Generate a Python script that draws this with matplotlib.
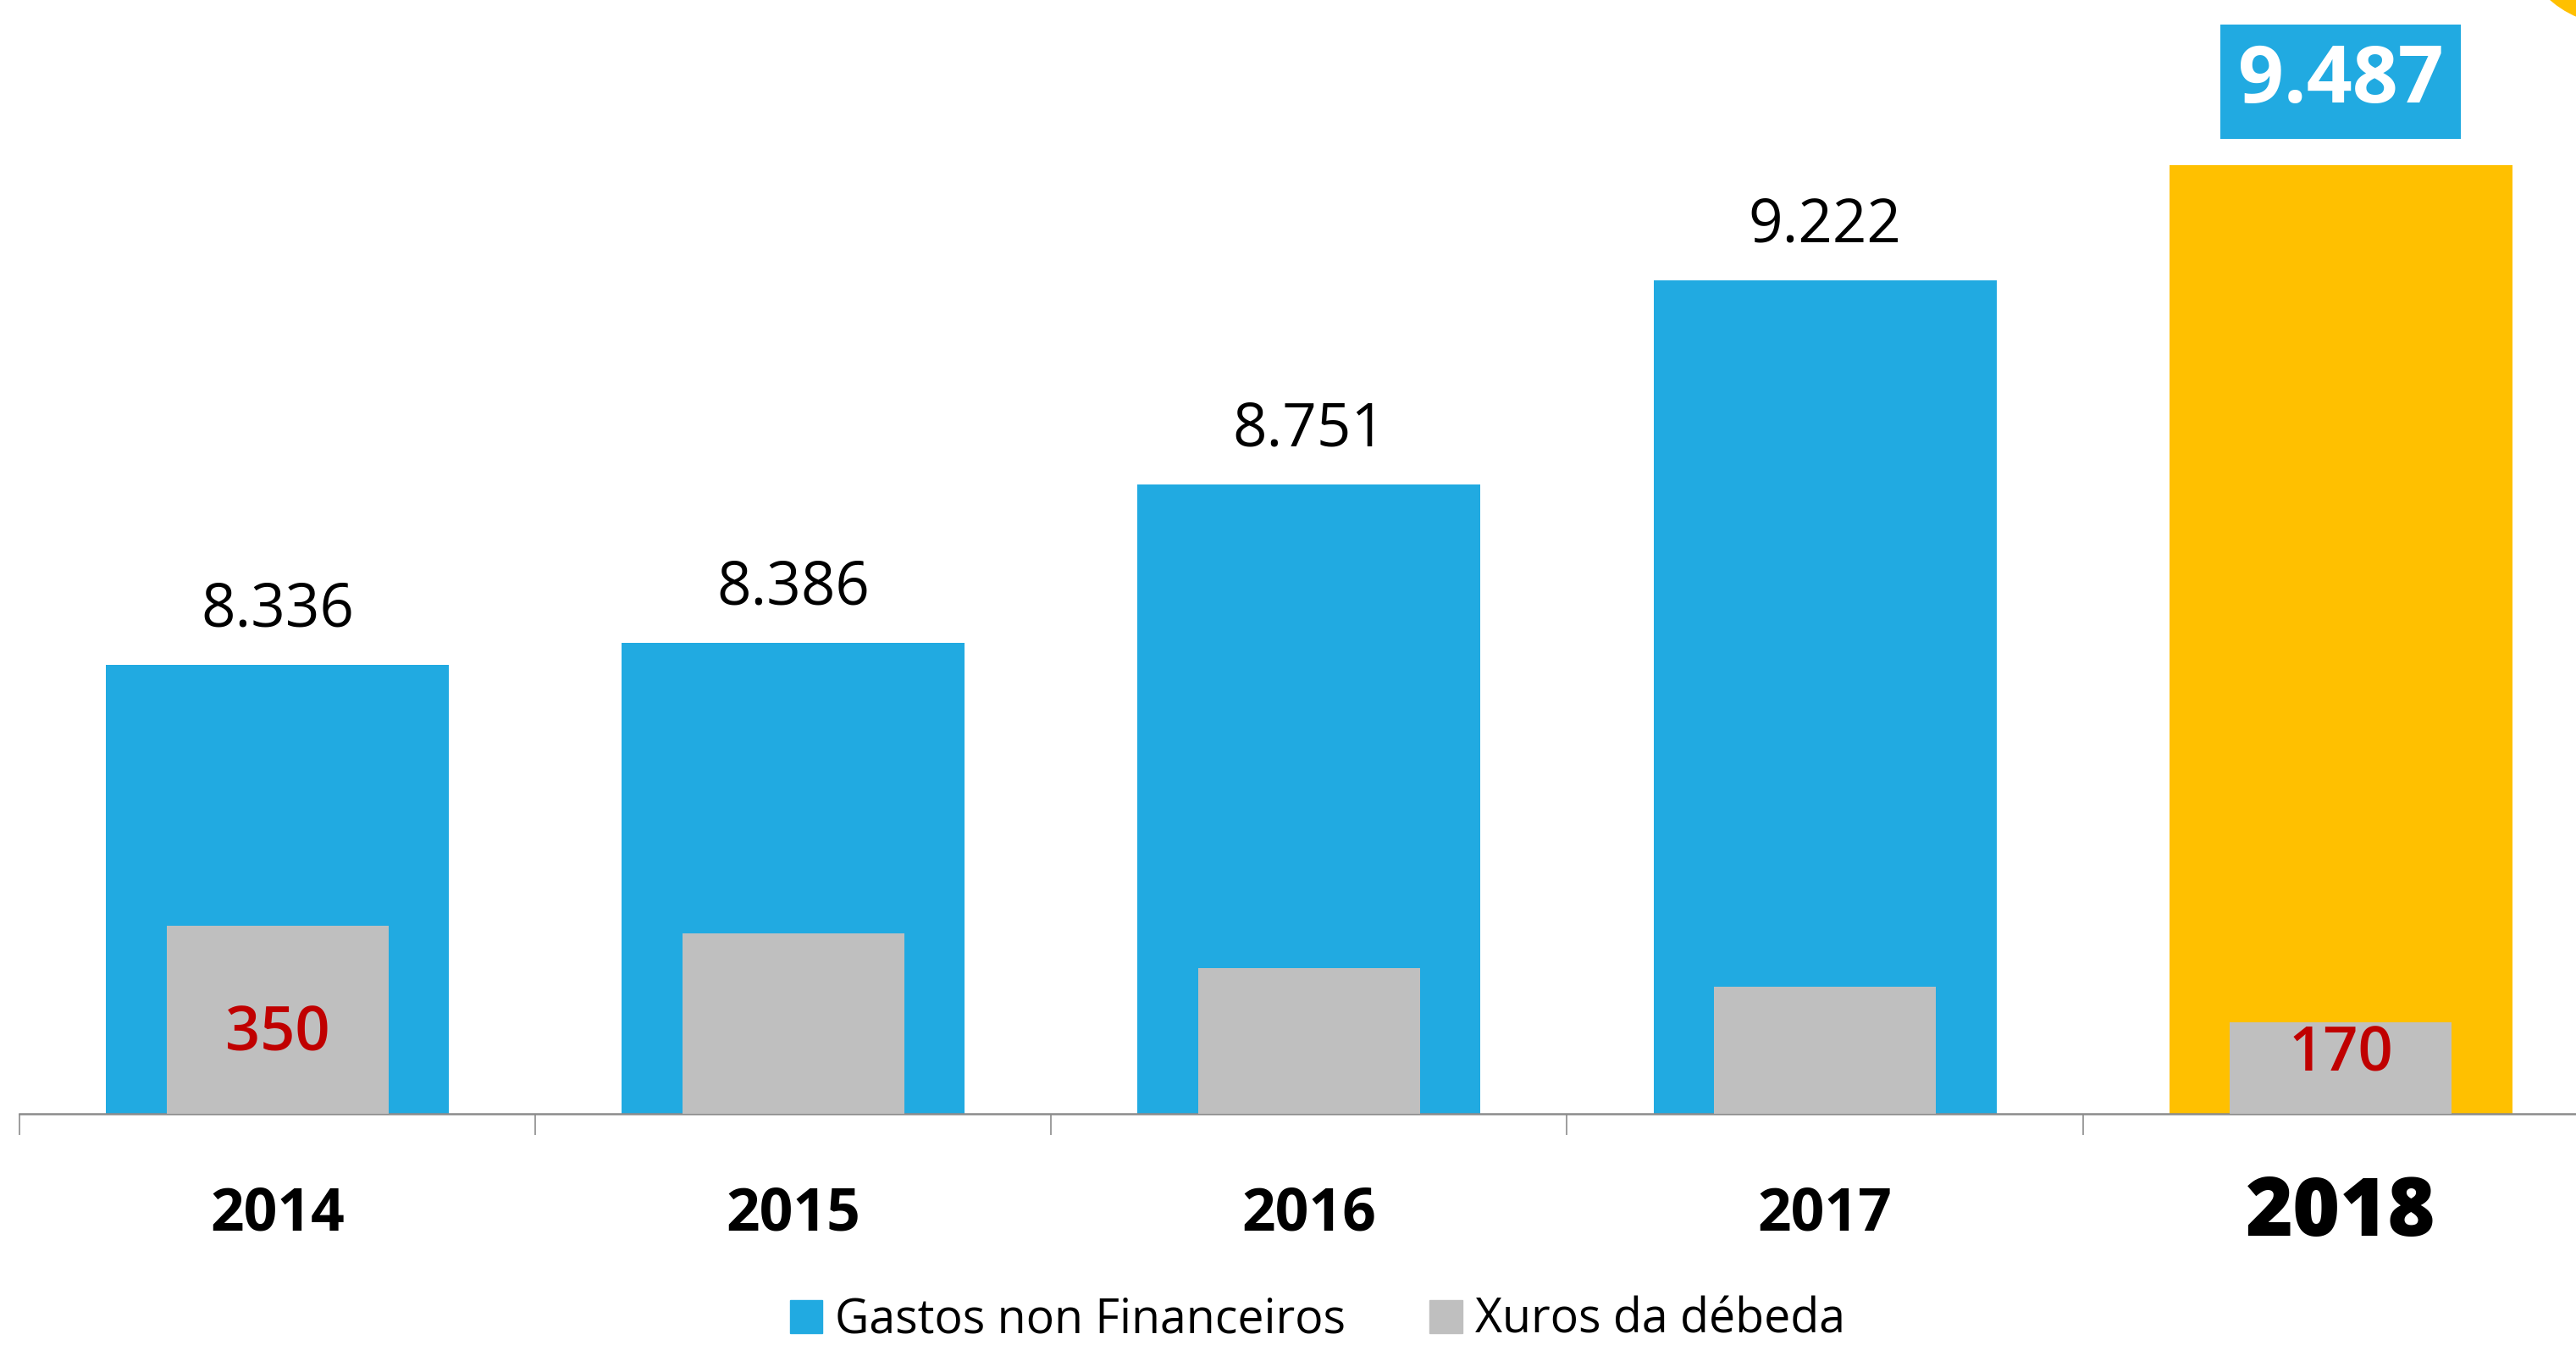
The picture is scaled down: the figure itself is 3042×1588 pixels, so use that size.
import matplotlib
matplotlib.use("Agg")
import matplotlib.pyplot as plt
from matplotlib.patches import Patch, Circle
import numpy as np

# data
years = ['2014', '2015', '2016', '2017', '2018']
gastos = [8336, 8386, 8751, 9222, 9487]
xuros = [350, 336, 272, 237, 170]
xuros_shown = ['350', '', '', '', '170']
legend_labels = ['Gastos non Financeiros', 'Xuros da débeda']

BLUE = '#21AAE1'
YELLOW = '#FFC000'
GRAY = '#BFBFBF'
RED = '#C00000'
AXIS = '#8C8C8C'

plt.rcParams['font.family'] = ['Open Sans', 'DejaVu Sans']

W, H = 3042, 1588
fig = plt.figure(figsize=(W / 100, H / 100), dpi=100)
ax = fig.add_axes([23 / W, 1 - 1315 / H, 1 - 23 / W, 1315 / H])
ax2 = ax.twinx()

x = np.arange(len(years))
colors = [BLUE] * (len(years) - 1) + [YELLOW]

ax.bar(x, gastos, width=0.665, color=colors, zorder=1)
ax2.bar(x, xuros, width=0.43, color=GRAY, zorder=2)

ax.set_xlim(-0.5, 4.456)
ax.set_ylim(7302, 9868)
ax2.set_ylim(0, 2075)

# value labels over the main bars
for i, v in enumerate(gastos):
    txt = f"{v:,}".replace(',', '.')
    if i == len(gastos) - 1:
        ax.annotate(txt, (x[i], v), xytext=(0, 71), textcoords='offset points',
                    ha='center', va='center', fontsize=68, fontweight='bold', color='white',
                    bbox=dict(boxstyle='square,pad=0.22', fc=BLUE, ec='none'))
    else:
        ax.annotate(txt, (x[i], v), xytext=(0, 33), textcoords='offset points',
                    ha='center', va='baseline', fontsize=51, color='black')

# red labels inside the grey bars
for i, s in enumerate(xuros_shown):
    if not s:
        continue
    off = 67 if i == 0 else 50
    ax2.annotate(s, (x[i], 0), xytext=(0, off), textcoords='offset points',
                 ha='center', va='center', fontsize=52, fontweight='semibold',
                 color=RED, zorder=5)

# axis styling
for side in ['top', 'right', 'left']:
    ax.spines[side].set_visible(False)
    ax2.spines[side].set_visible(False)
ax2.spines['bottom'].set_visible(False)
ax.spines['bottom'].set_color(AXIS)
ax.spines['bottom'].set_linewidth(1.8)
ax.set_yticks([])
ax2.set_yticks([])

ax.set_xticks(x)
ax.set_xticklabels(years)
ax.tick_params(axis='x', which='major', length=0, pad=86)
ax.set_xticks(np.arange(-0.5, 4, 1), minor=True)
ax.tick_params(axis='x', which='minor', length=18, width=1.2, color=AXIS, direction='out')
for i, lab in enumerate(ax.get_xticklabels()):
    if i == len(years) - 1:
        lab.set_fontsize(69)
        lab.set_fontweight('heavy')
    else:
        lab.set_fontsize(50)
        lab.set_fontweight('bold')
    lab.set_verticalalignment('center')

# legend at the bottom
handles = [Patch(color=BLUE), Patch(color=GRAY)]
fig.legend(handles, legend_labels, loc='lower center', bbox_to_anchor=(802 / 1568, 0.0),
           ncol=2, frameon=False, fontsize=40, handlelength=0.7, handleheight=0.7,
           handletextpad=0.27, columnspacing=1.78, borderpad=0.0, borderaxespad=0.0)

# yellow corner decoration
fig.add_artist(Circle((30.90, 16.78), 1.19, transform=fig.dpi_scale_trans,
                      color=YELLOW, clip_on=False))

fig.savefig('out.png', dpi=100)
